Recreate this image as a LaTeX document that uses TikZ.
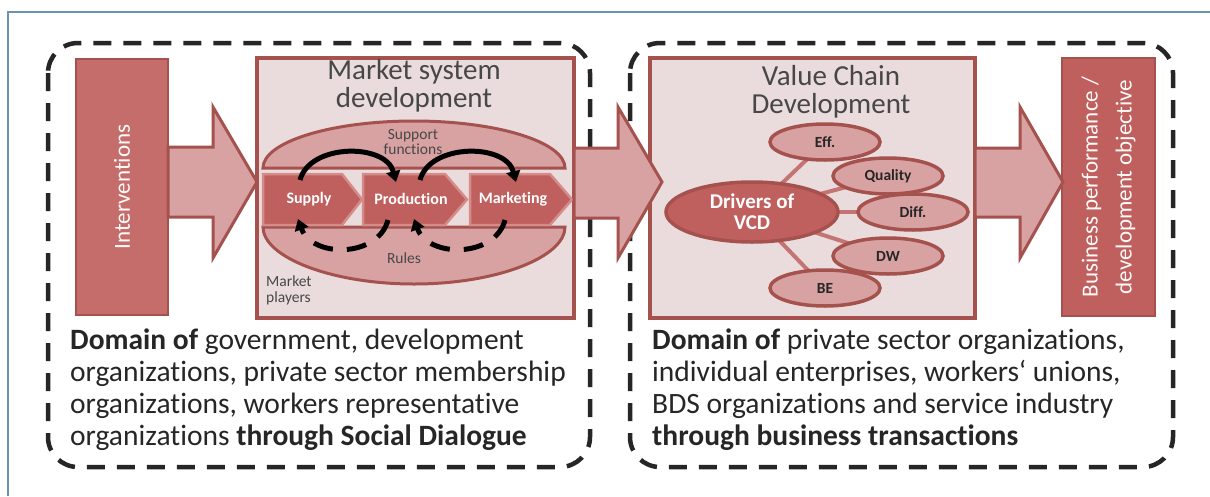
\documentclass[tikz,border=0pt]{standalone}
\usepackage{fontspec}
\setmainfont{Carlito}[Ligatures=NoCommon]
\usetikzlibrary{shapes.geometric,arrows.meta}
\definecolor{dred}{HTML}{C0605E}
\definecolor{bred}{HTML}{A5524F}
\definecolor{mpink}{HTML}{D9A2A2}
\definecolor{lpink}{HTML}{EADCDC}
\definecolor{framec}{HTML}{6A93B0}
\definecolor{linkc}{HTML}{C47573}
\definecolor{chainb}{HTML}{D38C8A}
\definecolor{txt}{HTML}{262626}
\pgfdeclarelayer{back}
\pgfdeclarelayer{mid}
\pgfsetlayers{back,mid,main}
\begin{document}
\begin{tikzpicture}[x=1pt,y=-1pt,
  domainbox/.style={black!85, line width=4.5pt, dash pattern=on 18pt off 12pt, rounded corners=30pt},
  bigbar/.style={fill=dred, draw=bred, line width=2pt, inner sep=0pt, outer sep=0pt},
  lightbox/.style={fill=lpink, draw=bred, line width=3.5pt, inner sep=0pt, outer sep=0pt},
  bigarrow/.style={fill=mpink, draw=bred, line width=3pt, line join=miter},
  halfell/.style={fill=mpink, draw=bred, line width=3pt},
  chainshape/.style={fill=dred, draw=chainb, line width=2.5pt},
  chainlbl/.style={text=white, font=\bfseries\fontsize{16}{17}\selectfont, inner sep=0pt},
  smallell/.style={ellipse, fill=mpink, draw=bred, line width=3.5pt, minimum width=110pt, minimum height=36pt, inner sep=0pt, font=\bfseries\fontsize{15.5}{16}\selectfont, text=txt},
  bigell/.style={ellipse, fill=dred, draw=bred, line width=3.5pt, minimum width=172pt, minimum height=60pt, inner sep=0pt, align=center, font=\bfseries\fontsize{21}{21}\selectfont, text=white},
  link/.style={draw=linkc, line width=4pt},
  flowarc/.style={black, line width=5pt, -{Triangle[length=11pt,width=14pt]}},
  backarc/.style={black, line width=5pt, dash pattern=on 20pt off 14pt, -{Triangle[length=11pt,width=14pt]}},
  title/.style={font=\fontsize{29}{28.5}\selectfont, text=txt!85, align=center, inner sep=0pt},
  smalltxt/.style={font=\fontsize{15.5}{15.5}\selectfont, text=txt!85, align=center, inner sep=0pt},
  bartxt/.style={rotate=90, text=white!92!pink, font=\fontsize{23}{34}\selectfont, align=center, inner sep=0pt},
  domaintxt/.style={anchor=north west, align=left, font=\fontsize{29.5}{32}\selectfont, text=txt, inner sep=0pt}
]
\useasboundingbox (0,0) rectangle (1210,496);
\begin{pgfonlayer}{back}
\fill[white] (0,0) rectangle (1210,496);
\end{pgfonlayer}
% outer frame
\draw[framec, line width=1.5pt] (8,496) -- (8,12) -- (1210,12);
% dashed domain boxes
\draw[domainbox] (48,43) rectangle (590,467);
\draw[domainbox] (630,43) rectangle (1173,467);

% boxes
\node[bigbar, fill=dred!92!white, minimum width=92pt, minimum height=256pt] (interv) at (122,187) {};
\node[bartxt] at (interv.center) {Interventions};
\begin{pgfonlayer}{back}
\node[lightbox, minimum width=317pt, minimum height=260pt] (msd) at (415.5,188) {};
\node[lightbox, minimum width=325pt, minimum height=260pt] (vcd) at (812.5,188) {};
\end{pgfonlayer}
\node[bigbar, minimum width=93pt, minimum height=258pt] (bp) at (1108.5,187) {};
\node[bartxt] at (bp.center) {Business performance /\\development objective};

% market system contents
\node[title] (msdt) at (414,86) {Market system\\development};
\path[halfell] (263,168) .. controls (263,142) and (331,121) .. (414,121)
  .. controls (497,121) and (565,142) .. (565,168) -- cycle;
\node[smalltxt] (supf) at (413,142) {Support\\functions};
\path[halfell] (263,227) .. controls (263,257) and (331,284) .. (414,284)
  .. controls (497,284) and (565,257) .. (565,227) -- cycle;
\node[smalltxt] (rules) at (404,258) {Rules};
\node[smalltxt, align=left, anchor=north west] (mplayers) at (266,276) {Market\\players};

\path[chainshape] (263,174) -- (342,174) -- (362,199.5) -- (342,225) -- (263,225) -- cycle;
\path[chainshape] (363,174) -- (445,174) -- (467,199.5) -- (445,225) -- (363,225) -- cycle;
\path[chainshape] (470,174) -- (550,174) -- (572,199.5) -- (550,225) -- (470,225) -- cycle;
\node[chainlbl] (supply) at (309,199) {Supply};
\node[chainlbl] (prod) at (411,199) {Production};
\node[chainlbl] (mkt) at (513,199) {Marketing};

\coordinate (s1) at (300,180);
\coordinate (p1) at (396,182);
\coordinate (p2) at (420,180);
\coordinate (m1) at (516,182);
\coordinate (p3) at (388,220);
\coordinate (s2) at (298,219);
\coordinate (m2) at (505,220);
\coordinate (p4) at (414,219);
\draw[flowarc] (s1) .. controls (310,143) and (386,143) .. (p1);
\draw[flowarc] (p2) .. controls (430,143) and (506,143) .. (m1);
\draw[backarc] (p3) .. controls (378,258) and (312,258) .. (s2);
\draw[backarc] (m2) .. controls (495,258) and (428,258) .. (p4);

% value chain contents
\node[title] (vcdt) at (831,92) {Value Chain\\Development};
\node[bigell] (drv) at (752,212) {Drivers of\\VCD};
\node[smallell] (eff) at (825,142) {Eff.};
\node[smallell] (qual) at (888,176) {Quality};
\node[smallell] (diff) at (913,212) {Diff.};
\node[smallell] (dw) at (888,256) {DW};
\node[smallell] (be) at (825,288) {BE};
\begin{pgfonlayer}{mid}
\draw[link] (drv.center) -- (eff.center);
\draw[link] (drv.center) -- (qual.center);
\draw[link] (drv.center) -- (diff.center);
\draw[link] (drv.center) -- (dw.center);
\draw[link] (drv.center) -- (be.center);
\end{pgfonlayer}

% big arrows
\path[bigarrow] (168,147) -- (213,147) -- (213,107) -- (257,182) -- (213,258) -- (213,217) -- (168,217) -- cycle;
\path[bigarrow] (574,148) -- (618,148) -- (618,107) -- (662,182) -- (618,258) -- (618,218) -- (574,218) -- cycle;
\path[bigarrow] (975,148) -- (1020,148) -- (1020,107) -- (1063,182) -- (1020,258) -- (1020,217) -- (975,217) -- cycle;

% domain texts
\node[domaintxt] (ldom) at (70,329) {\textbf{Domain of} government, development\\organizations, private sector membership\\organizations, workers representative\\organizations \textbf{through Social Dialogue}};
\node[domaintxt] (rdom) at (652,329) {\textbf{Domain of} private sector organizations,\\individual enterprises, workers‘ unions,\\BDS organizations and service industry\\\textbf{through business transactions}};
\end{tikzpicture}
\end{document}
